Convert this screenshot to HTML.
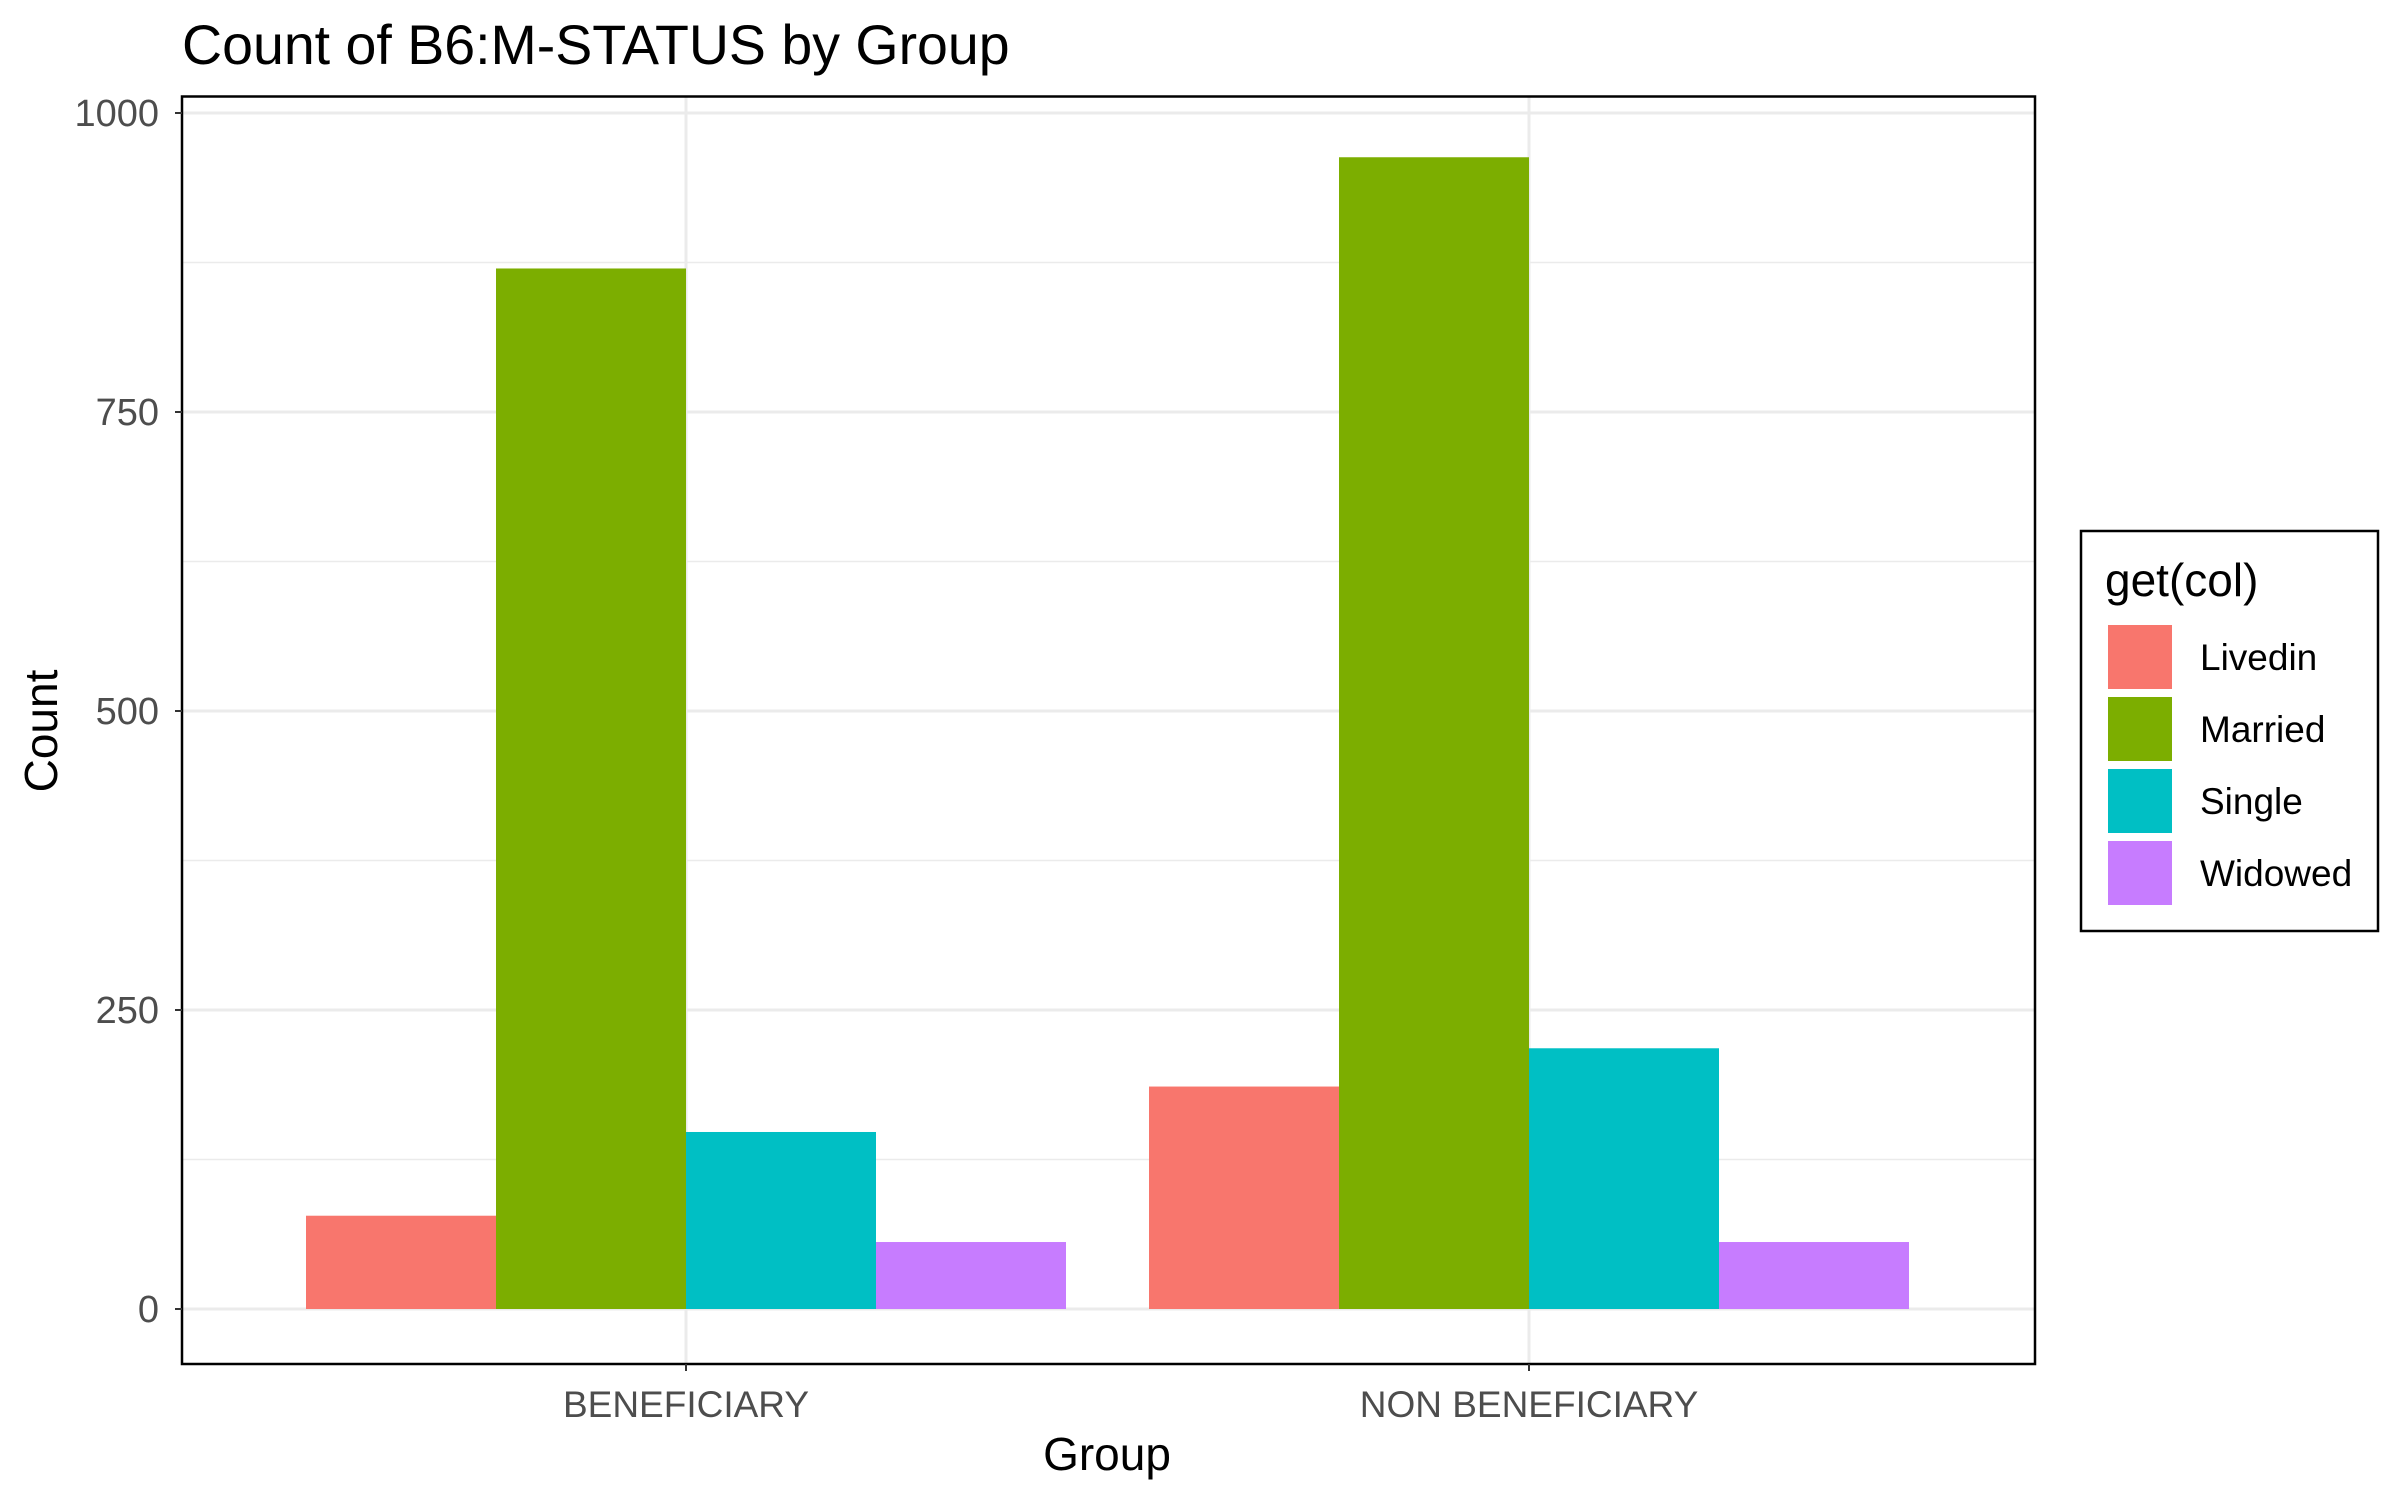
<!DOCTYPE html>
<html><head><meta charset="utf-8"><style>
body{margin:0;background:#fff;}
svg text{font-family:"Liberation Sans",Arial,sans-serif;}
</style></head><body>
<svg id="chart" width="2400" height="1500" xmlns="http://www.w3.org/2000/svg">
<rect width="2400" height="1500" fill="#fff"/>
<text x="182" y="64" font-size="55.5" fill="#000">Count of B6:M-STATUS by Group</text>
<g id="grid"></g>
<g id="bars"></g>
<rect x="182" y="96.5" width="1853" height="1267.5" fill="none" stroke="#000" stroke-width="2.5"/>
<g id="axes"></g>
<text x="1107" y="1470" font-size="46" text-anchor="middle" fill="#000">Group</text>
<text transform="translate(57,731) rotate(-90)" font-size="46" text-anchor="middle" fill="#000">Count</text>
<g id="legend">
<rect x="2081" y="531" width="297" height="400" fill="#fff" stroke="#000" stroke-width="2.5"/>
<text x="2105" y="596" font-size="46" fill="#000">get(col)</text>
</g>
</svg>
<script>
const categories = ["BENEFICIARY", "NON BENEFICIARY"];
const seriesNames = ["Livedin", "Married", "Single", "Widowed"];
const livedin = [78, 186];
const married = [870, 963];
const single = [148, 218];
const widowed = [56, 56];
const yTicks = [0, 250, 500, 750, 1000];
const colors = ["#F8766D", "#7CAE00", "#00BFC4", "#C77CFF"];
const series = [livedin, married, single, widowed];

const NS = "http://www.w3.org/2000/svg";
const pLeft = 182, pRight = 2035, pTop = 96.5, pBottom = 1364;
const y0px = 1309, y1000px = 113;
function yScale(v){ return y0px - (v/1000)*(y0px - y1000px); }
function xCenter(i){ return 686 + i*(1529-686); }
const barW = 190;
function mk(tag, attrs, parent){ const e=document.createElementNS(NS,tag); for(const k in attrs) e.setAttribute(k,attrs[k]); parent.appendChild(e); return e; }
const gridG=document.getElementById('grid'), barsG=document.getElementById('bars'), axesG=document.getElementById('axes'), legendG=document.getElementById('legend');

for(let k=0;k<yTicks.length-1;k++){
  const mv=(yTicks[k]+yTicks[k+1])/2;
  const l=mk('line',{x1:pLeft,x2:pRight,y1:yScale(mv),y2:yScale(mv),stroke:'#ebebeb','stroke-width':1.5},gridG);
  
  
}
yTicks.forEach(t=>{
  const y=yScale(t);
  const l=mk('line',{x1:pLeft,x2:pRight,y1:y,y2:y,stroke:'#ebebeb','stroke-width':3},gridG);
  
  
  const tk=mk('line',{x1:pLeft-7,x2:pLeft,y1:y,y2:y,stroke:'#333','stroke-width':2},axesG);
  
  
  const tx=mk('text',{x:159,y:y+13,'font-size':38,'text-anchor':'end',fill:'#4d4d4d'},axesG);
  tx.textContent=t;
  
  
});
categories.forEach((c,i)=>{
  const x=xCenter(i);
  const l=mk('line',{x1:x,x2:x,y1:pTop,y2:pBottom,stroke:'#ebebeb','stroke-width':3},gridG);
  
  
  const tk=mk('line',{x1:x,x2:x,y1:pBottom,y2:pBottom+7,stroke:'#333','stroke-width':2},axesG);
  
  
  const tx=mk('text',{x:x,y:1417,'font-size':37,'text-anchor':'middle',fill:'#4d4d4d'},axesG);
  tx.textContent=c;
  
  
  series.forEach((s,j)=>{
    const bx=x-2*barW+j*barW;
    const r=mk('rect',{x:bx,y:yScale(s[i]),width:barW,height:yScale(0)-yScale(s[i]),fill:colors[j]},barsG);
    
    
  });
});
seriesNames.forEach((n,j)=>{
  const y=625+j*72;
  const r=mk('rect',{x:2108,y:y,width:64,height:64,fill:colors[j]},legendG);
  
  
  const t=mk('text',{x:2200,y:y+45,'font-size':37,fill:'#000'},legendG);
  t.textContent=n;
  
  
});
</script>
</body></html>
